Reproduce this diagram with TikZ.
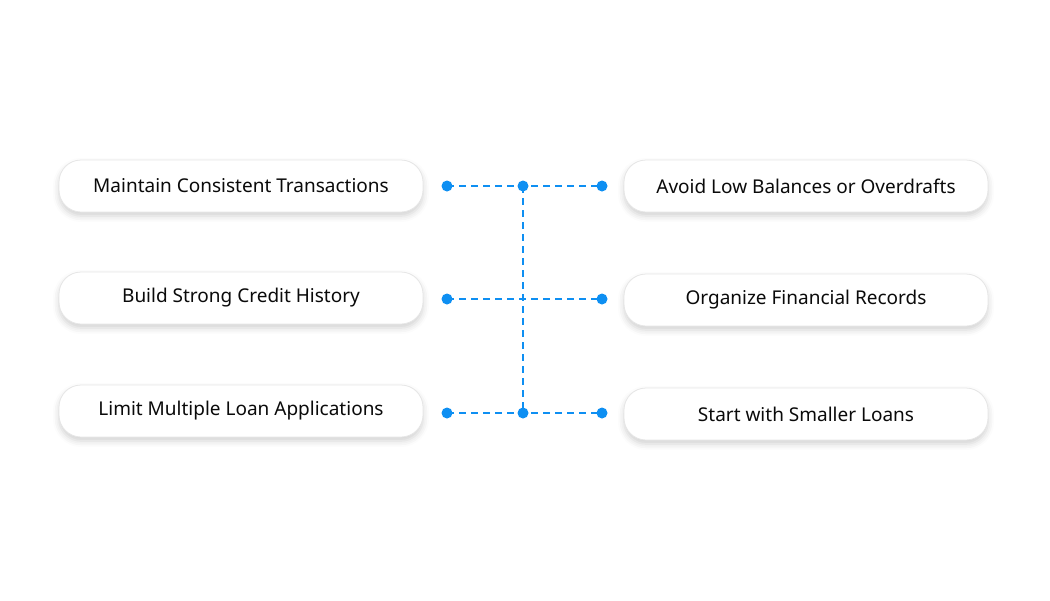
\documentclass[tikz,border=0pt]{standalone}
\usepackage{fontspec}
\setmainfont{Noto Sans}
\usetikzlibrary{shadows.blur}
\definecolor{dotblue}{HTML}{0E8FF2}
\definecolor{boxline}{HTML}{E6E6E6}
\definecolor{txt}{HTML}{0A0A0A}
\tikzset{
  card/.style={draw=boxline, line width=0.8pt, fill=white, rounded corners=22pt,
    minimum width=364pt, minimum height=52pt, inner sep=0pt,
    font=\fontsize{19pt}{22pt}\selectfont, text=txt,
    blur shadow={shadow xshift=0pt, shadow yshift=-4pt, shadow blur radius=6pt, shadow opacity=18}},
  joint/.style={circle, fill=dotblue, minimum size=11pt, inner sep=0pt},
  link/.style={draw=dotblue, line width=2pt, dash pattern=on 7pt off 5pt},
}
\begin{document}
\begin{tikzpicture}[x=1pt,y=-1pt]
\useasboundingbox (0,0) rectangle (1050,600);
\node[card] (l1) at (241,186) {Maintain Consistent Transactions};
\node[card] (l2) at (241,298) {Build Strong Credit History};
\node[card] (l3) at (241,411) {Limit Multiple Loan Applications};
\node[card] (r1) at (806,186) {Avoid Low Balances or Overdrafts};
\node[card] (r2) at (806,300) {Organize Financial Records};
\node[card] (r3) at (806,414) {Start with Smaller Loans};
\coordinate (a1) at (447,186);
\coordinate (a2) at (447,299);
\coordinate (a3) at (447,413);
\coordinate (c1) at (523,186);
\coordinate (c3) at (523,413);
\coordinate (b1) at (602,186);
\coordinate (b2) at (602,299);
\coordinate (b3) at (602,413);
\draw[link] (a1) -- (b1);
\draw[link] (a2) -- (b2);
\draw[link] (a3) -- (b3);
\draw[link] (c1) -- (c3);
\foreach \p in {a1,a2,a3,c1,c3,b1,b2,b3} \node[joint] at (\p) {};
\end{tikzpicture}
\end{document}
